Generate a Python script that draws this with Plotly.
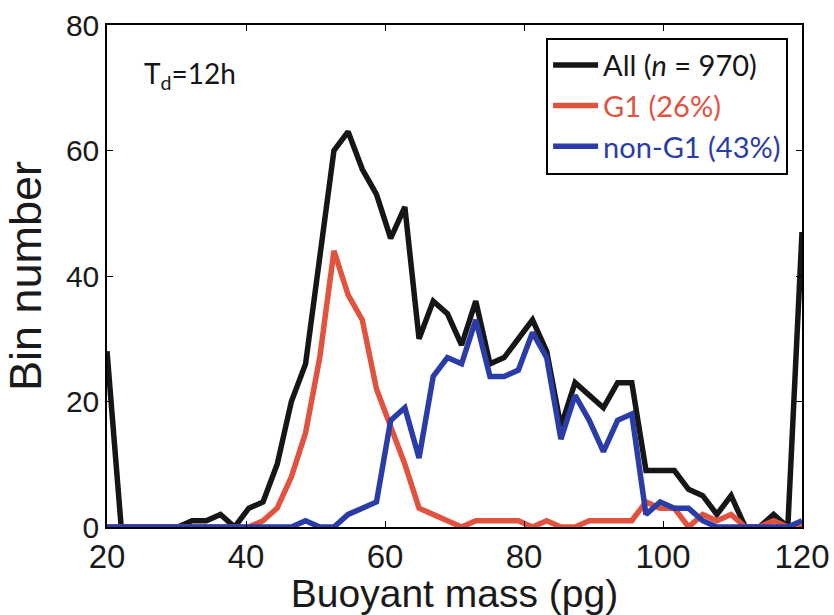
import numpy as np
import plotly.graph_objects as go

# Bin centres (50 bins between 20 and 120 pg)
bin_centers = np.linspace(20, 120, 50)

all_counts = [28, 0, 0, 0, 0, 0, 1, 1, 2, 0,
              3, 4, 10, 20, 26, 43, 60, 63, 57, 53,
              46, 51, 30, 36, 34, 29, 36, 26, 27, 30,
              33, 28, 16, 23, 21, 19, 23, 23, 9, 9,
              9, 6, 5, 2, 5, 0, 0, 2, 0, 47]

g1_counts = [0, 0, 0, 0, 0, 0, 0, 0, 0, 0,
             0, 1, 3, 8, 15, 27, 44, 37, 33, 22,
             16, 10, 3, 2, 1, 0, 1, 1, 1, 1,
             0, 1, 0, 0, 1, 1, 1, 1, 4, 3,
             3, 0, 2, 1, 2, 0, 0, 1, 0, 0]

nong1_counts = [0, 0, 0, 0, 0, 0, 0, 0, 0, 0,
                0, 0, 0, 0, 1, 0, 0, 2, 3, 4,
                17, 19, 11, 24, 27, 26, 33, 24, 24, 25,
                31, 27, 14, 21, 17, 12, 17, 18, 2, 4,
                3, 3, 1, 0, 0, 0, 0, 0, 0, 1]

series_names = ["All (<i>n</i> = 970)", "G1 (26%)", "non-G1 (43%)"]
series_colors = ["#161616", "#e2533f", "#2a3ca8"]

x_ticks = [20, 40, 60, 80, 100, 120]
y_ticks = [0, 20, 40, 60, 80]

fig = go.Figure()
for name, ys, col in zip(series_names, [all_counts, g1_counts, nong1_counts], series_colors):
    label = name if col == series_colors[0] else f"<span style='color:{col}'>{name}</span>"
    fig.add_trace(go.Scatter(x=bin_centers, y=ys, mode="lines", name=label,
                             legendgroup=name,
                             line=dict(color=col, width=5.5), cliponaxis=True))

axis_font = "Liberation Sans, Arial, sans-serif"
fig.update_layout(
    width=834, height=615,
    margin=dict(l=107, r=32, t=25, b=88, autoexpand=False),
    plot_bgcolor="white", paper_bgcolor="white",
    showlegend=True,
    legend=dict(x=0.98, xanchor="right", y=0.975, yanchor="top",
                bordercolor="black", borderwidth=2, bgcolor="white",
                font=dict(family="Lato, sans-serif", size=29, color="#161616"),
                tracegroupgap=0, itemwidth=45),
    xaxis=dict(range=[20, 120], tickvals=x_ticks, ticks="inside", ticklen=6,
               tickcolor="black", showline=True, linecolor="black", linewidth=1.5,
               mirror="ticks", showgrid=False, zeroline=False, automargin=False,
               tickfont=dict(family=axis_font, size=33, color="#1a1a1a"),
               title=dict(text="Buoyant mass (pg)", standoff=4,
                          font=dict(family=axis_font, size=39, color="#1a1a1a"))),
    yaxis=dict(range=[0, 80], tickvals=y_ticks, ticks="inside", ticklen=6,
               tickcolor="black", showline=True, linecolor="black", linewidth=1.5,
               mirror="ticks", showgrid=False, zeroline=False, automargin=False,
               tickfont=dict(family=axis_font, size=30, color="#1a1a1a"),
               title=dict(text="Bin number", standoff=10,
                          font=dict(family=axis_font, size=45, color="#1a1a1a"))),
    annotations=[dict(text="T<sub>d</sub>=12h", xref="paper", yref="paper",
                      x=0.05, y=0.90, xanchor="left", yanchor="middle",
                      showarrow=False,
                      font=dict(family="Lato, sans-serif", size=28, color="#161616"))],
)

fig.write_html("out.html")
